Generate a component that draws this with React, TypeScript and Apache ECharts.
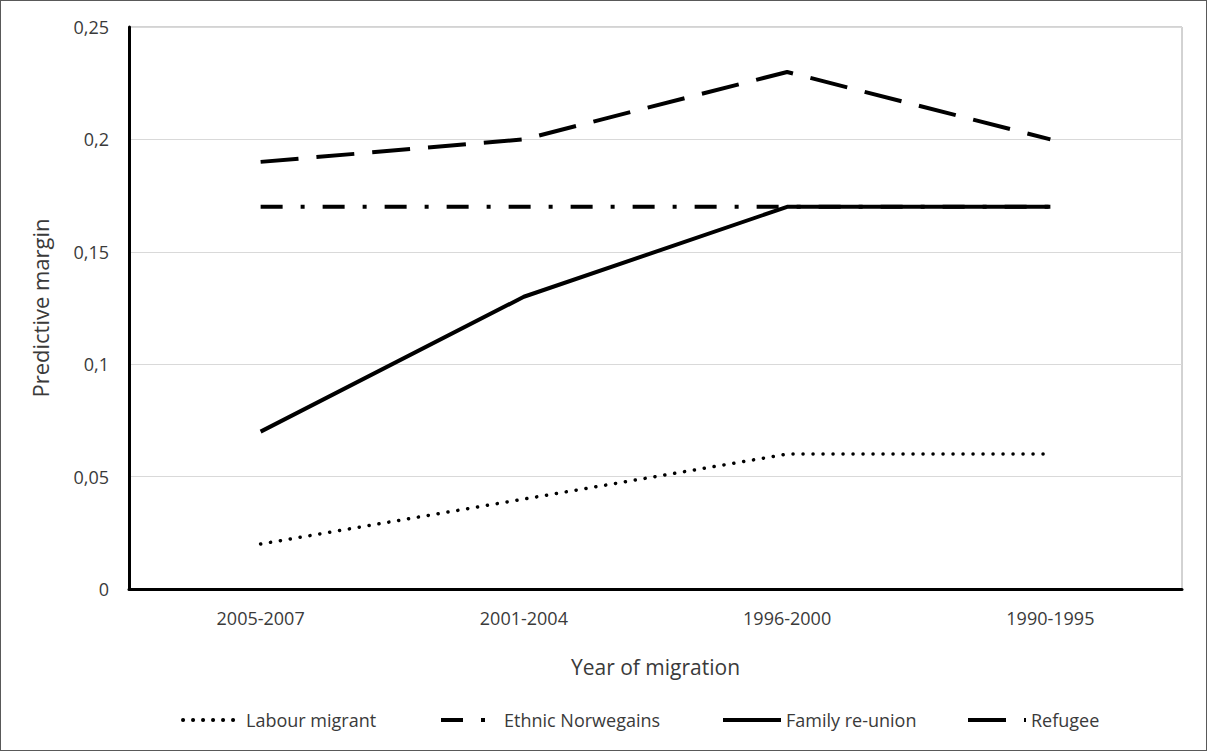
import React, { useEffect, useRef } from "react";
import * as echarts from "echarts";

const categories = ["2005-2007", "2001-2004", "1996-2000", "1990-1995"];
const labourMigrant = [0.02, 0.04, 0.06, 0.06];
const ethnicNorwegians = [0.17, 0.17, 0.17, 0.17];
const familyReunion = [0.07, 0.13, 0.17, 0.17];
const refugee = [0.19, 0.2, 0.23, 0.2];
const seriesNames = ["Labour migrant", "Ethnic Norwegains", "Family re-union", "Refugee"];

const FONT = "'Open Sans', 'Noto Sans', sans-serif";
const TEXT_COLOR = "#3a3a3a";

export default function App() {
  const ref = useRef<HTMLDivElement>(null);
  useEffect(() => {
    if (!ref.current) return;
    const chart = echarts.init(ref.current, undefined, { renderer: "svg" });
    const legendLefts = [175, 433, 715, 960];
    const option: any = {
      animation: false,
      backgroundColor: "#ffffff",
      textStyle: { fontFamily: FONT, color: TEXT_COLOR },
      grid: {
        left: 128,
        right: 24,
        top: 26,
        bottom: 161,
        containLabel: false,
        show: true,
        borderColor: "#a6a6a6",
        borderWidth: 1,
      },
      legend: seriesNames.map((n, i) => ({
        data: [n],
        left: legendLefts[i],
        top: 705,
        itemWidth: 58,
        itemHeight: 14,
        itemGap: 6,
        itemStyle: { opacity: 0 },
        lineStyle: { width: 4 },
        textStyle: { fontFamily: FONT, fontSize: 18, color: TEXT_COLOR },
      })),
      xAxis: {
        type: "category",
        data: categories,
        boundaryGap: true,
        name: "Year of migration",
        nameLocation: "middle",
        nameGap: 67,
        nameTextStyle: { fontFamily: FONT, fontSize: 21, color: TEXT_COLOR },
        axisLine: { lineStyle: { color: "#000", width: 3 } },
        axisTick: { show: false },
        axisLabel: { fontFamily: FONT, fontSize: 18, color: TEXT_COLOR, margin: 20 },
      },
      yAxis: {
        type: "value",
        min: 0,
        max: 0.25,
        interval: 0.05,
        name: "Predictive margin",
        nameLocation: "middle",
        nameGap: 78,
        nameRotate: 90,
        nameTextStyle: { fontFamily: FONT, fontSize: 22, color: TEXT_COLOR },
        axisLine: { show: true, lineStyle: { color: "#000", width: 3 } },
        axisTick: { show: false },
        axisLabel: {
          fontFamily: FONT,
          fontSize: 18,
          color: TEXT_COLOR,
          margin: 20,
          formatter: (v: number) => (Math.round(v * 100) / 100).toString().replace(".", ","),
        },
        splitLine: { lineStyle: { color: "#d9d9d9", width: 1 } },
      },
      series: [
        {
          name: seriesNames[0],
          type: "line",
          data: labourMigrant,
          symbol: "none",
          lineStyle: { color: "#000", width: 3.5, type: [0.1, 9.9], cap: "round" },
          itemStyle: { color: "#000" },
        },
        {
          name: seriesNames[1],
          type: "line",
          data: ethnicNorwegians,
          symbol: "none",
          lineStyle: { color: "#000", width: 4, type: [22, 18, 4, 18] },
          itemStyle: { color: "#000" },
        },
        {
          name: seriesNames[2],
          type: "line",
          data: familyReunion,
          symbol: "none",
          lineStyle: { color: "#000", width: 4, type: "solid" },
          itemStyle: { color: "#000" },
        },
        {
          name: seriesNames[3],
          type: "line",
          data: refugee,
          symbol: "none",
          lineStyle: { color: "#000", width: 4, type: [38, 18] },
          itemStyle: { color: "#000" },
        },
      ],
    };
    chart.setOption(option);
    return () => chart.dispose();
  }, []);
  return (
    <div
      style={{
        position: "fixed",
        left: 0,
        top: 0,
        width: 1207,
        height: 751,
        boxSizing: "border-box",
        border: "1px solid #595959",
        background: "#fff",
      }}
    >
      <div ref={ref} style={{ width: 1205, height: 749 }} />
    </div>
  );
}
